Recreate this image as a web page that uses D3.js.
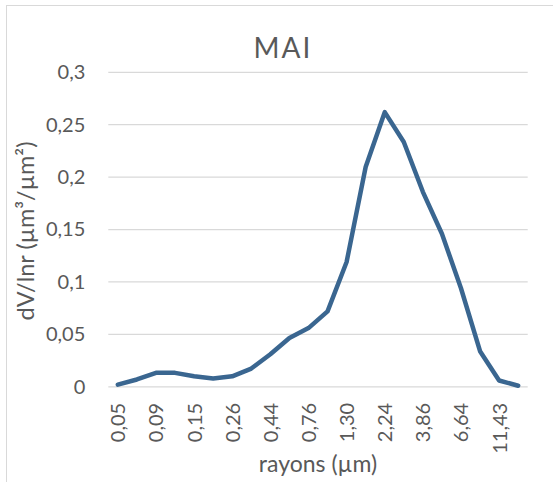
<!DOCTYPE html>
<html><head><meta charset="utf-8">
<script src="https://cdn.jsdelivr.net/npm/d3@7"></script>
<style>body{margin:0;background:#fff}svg{display:block}text{font-family:Lato,"Open Sans",sans-serif;fill:#595959}</style>
</head><body><svg id="c" width="553" height="482"></svg>
<script>
const categories = ["0,05","0,07","0,09","0,12","0,15","0,20","0,26","0,34","0,44","0,58","0,76","1,00","1,30","1,71","2,24","2,94","3,86","5,06","6,64","8,71","11,43","15,00"];
const values = [0.002,0.007,0.0133,0.0133,0.010,0.008,0.010,0.0174,0.031,0.0466,0.056,0.072,0.119,0.2097,0.262,0.2335,0.186,0.146,0.094,0.034,0.006,0.001];
const yTicks = [0,0.05,0.1,0.15,0.2,0.25,0.3];
const shownX = categories.filter((d,i)=>i%2===0);

const svg = d3.select("#c");
svg.append("rect").attr("x",6.5).attr("y",5.5).attr("width",700).attr("height",700)
  .attr("fill","none").attr("stroke","#d9d9d9");

const x = d3.scalePoint().domain(categories).range([108.3,527.7]).padding(0.5);
const y = d3.scaleLinear().domain([0,0.3]).range([386.8,72.3]);
const fmt = d => String(d).replace(".",",");

// grid
svg.append("g").selectAll("line").data(yTicks).join("line")
  .attr("x1",108.3).attr("x2",527.7).attr("y1",d=>y(d)).attr("y2",d=>y(d))
  .attr("stroke","#d9d9d9").attr("stroke-width",1.2);

const ya = svg.append("g").attr("transform","translate(108.3,0)")
  .call(d3.axisLeft(y).tickValues(yTicks).tickFormat(fmt).tickSize(0).tickPadding(23));
ya.select(".domain").remove();
ya.selectAll("text").style("font-size","20px").style("fill","#595959").style("font-family","Lato");

const xa = svg.append("g").attr("transform","translate(0,386.8)")
  .call(d3.axisBottom(x).tickValues(shownX).tickSize(0));
xa.select(".domain").remove();
xa.selectAll("text").style("font-size","20px").style("fill","#595959").style("font-family","Lato")
  .attr("transform","rotate(-90)").attr("text-anchor","end").attr("x",-16).attr("y",0).attr("dy","0.35em");

svg.append("path").datum(values)
  .attr("d", d3.line().x((d,i)=>x(categories[i])).y(d=>y(d)))
  .attr("fill","none").attr("stroke","#3a6690").attr("stroke-width",4.5)
  .attr("stroke-linejoin","round").attr("stroke-linecap","round");

svg.append("text").attr("x",283).attr("y",58).attr("text-anchor","middle")
  .style("font-size","28px").style("letter-spacing","2px").text("MAI");
svg.append("text").attr("x",318).attr("y",472).attr("text-anchor","middle")
  .style("font-size","23px").text("rayons (µm)");
svg.append("text").attr("transform","translate(34,231) rotate(-90)").attr("text-anchor","middle")
  .style("font-size","23.5px").text("dV/lnr (µm³/µm²)");
</script></body></html>
